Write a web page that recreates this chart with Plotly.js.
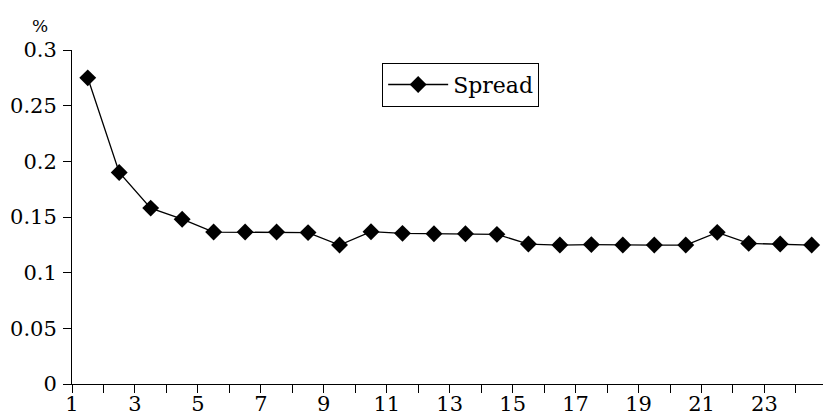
<!DOCTYPE html>
<html>
<head>
<meta charset="utf-8">
<script src="https://cdn.plot.ly/plotly-3.0.1.min.js"></script>
<style>html,body{margin:0;padding:0;background:#fff;}#chart{width:823px;height:420px;}</style>
</head>
<body>
<div id="chart"></div>
<script>
// Periods (plotted between category ticks)
var periods = [1.5,2.5,3.5,4.5,5.5,6.5,7.5,8.5,9.5,10.5,11.5,12.5,13.5,14.5,15.5,16.5,17.5,18.5,19.5,20.5,21.5,22.5,23.5,24.5];
// Spread values (%)
var spread = [0.275,0.19,0.158,0.148,0.1365,0.1365,0.1365,0.136,0.1248,0.1368,0.1353,0.135,0.135,0.1344,0.1257,0.1248,0.1252,0.1248,0.1248,0.1248,0.1362,0.1263,0.1258,0.1248];
var seriesName = 'Spread';
// Axis ticks
var xTickVals = [1,2,3,4,5,6,7,8,9,10,11,12,13,14,15,16,17,18,19,20,21,22,23,24];
var xTickText = ['1','','3','','5','','7','','9','','11','','13','','15','','17','','19','','21','','23',''];
var yTickVals = [0,0.05,0.1,0.15,0.2,0.25,0.3];
var yTickText = ['0','0.05','0.1','0.15','0.2','0.25','0.3'];
var yUnit = '%';

var font = 'DejaVu Serif';

var trace = {
  x: periods, y: spread, name: seriesName, type: 'scatter', mode: 'lines+markers',
  line: {color: '#000', width: 1.3},
  marker: {symbol: 'diamond', size: 13, color: '#000'},
  cliponaxis: false
};

var layout = {
  width: 823, height: 420,
  margin: {l: 72, r: 0, t: 50, b: 36},
  paper_bgcolor: '#fff', plot_bgcolor: '#fff',
  font: {family: font, size: 21, color: '#000'},
  showlegend: true,
  legend: {x: 0.413, y: 0.962, xanchor: 'left', yanchor: 'top', itemwidth: 60,
    bordercolor: '#000', borderwidth: 1, bgcolor: '#fff',
    font: {family: font, size: 22, color: '#000'}},
  xaxis: {range: [1, 24.86], tickmode: 'array', tickvals: xTickVals, ticktext: xTickText,
    ticks: 'outside', ticklen: 8, tickwidth: 1, tickcolor: '#000', ticklabelstandoff: -7,
    showline: true, linecolor: '#000', linewidth: 1, showgrid: false, zeroline: false,
    tickfont: {family: font, size: 21, color: '#000'}},
  yaxis: {range: [0, 0.3], tickmode: 'array', tickvals: yTickVals, ticktext: yTickText,
    ticks: 'outside', ticklen: 8, tickwidth: 1, tickcolor: '#000', ticklabelstandoff: 2,
    showline: true, linecolor: '#000', linewidth: 1, showgrid: false, zeroline: false,
    tickfont: {family: font, size: 21, color: '#000'}},
  annotations: [{text: yUnit, xref: 'paper', yref: 'paper', x: -0.042, y: 1.072,
    xanchor: 'center', yanchor: 'middle', showarrow: false,
    font: {family: font, size: 17, color: '#000'}}]
};

Plotly.newPlot('chart', [trace], layout, {displayModeBar: false, staticPlot: true});
</script>
</body>
</html>
